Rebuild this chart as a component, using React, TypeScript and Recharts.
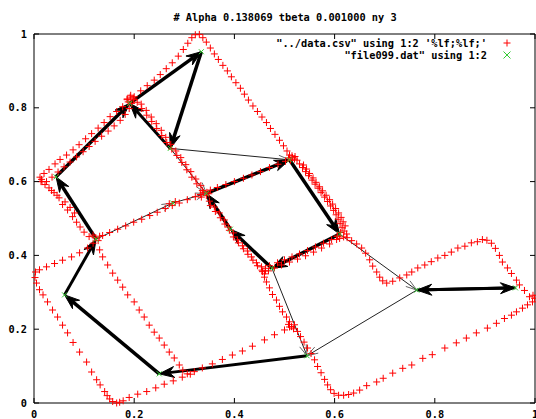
import { ReferenceArea, ReferenceLine, Scatter, ScatterChart, XAxis, YAxis } from 'recharts';

type Pt = [number, number];

const TITLE = '# Alpha 0.138069 tbeta 0.001000 ny 3';
const LEGEND_CSV = `"../data.csv" using 1:2 '%lf;%lf;'`;
const LEGEND_DAT = '"file099.dat" using 1:2';

const xTicks = [0, 0.2, 0.4, 0.6, 0.8, 1];
const yTicks = [0, 0.2, 0.4, 0.6, 0.8, 1];

// red "+" points of ../data.csv, grouped by the stretch of curve they sit on
const redTopOuter: Pt[] = [
  [0.015, 0.606], [0.02, 0.622], [0.03, 0.633], [0.042, 0.648], [0.052, 0.66], [0.065, 0.672],
  [0.078, 0.686], [0.09, 0.7], [0.103, 0.716], [0.115, 0.73], [0.128, 0.745], [0.14, 0.76],
  [0.152, 0.776], [0.165, 0.79], [0.177, 0.803], [0.188, 0.816], [0.2, 0.83], [0.213, 0.846],
  [0.226, 0.86], [0.24, 0.875], [0.252, 0.89], [0.264, 0.906], [0.276, 0.922], [0.288, 0.94],
  [0.298, 0.958], [0.307, 0.975], [0.315, 0.99], [0.322, 0.998], [0.33, 0.999], [0.337, 0.99],
];
const redTopInner: Pt[] = [
  [0.025, 0.6], [0.036, 0.612], [0.048, 0.626], [0.06, 0.64], [0.072, 0.653], [0.085, 0.667],
  [0.098, 0.681], [0.11, 0.695], [0.122, 0.709], [0.135, 0.723], [0.148, 0.737], [0.16, 0.751],
  [0.172, 0.766], [0.182, 0.782], [0.19, 0.798], [0.195, 0.812], [0.186, 0.824], [0.193, 0.834],
  [0.199, 0.822],
];
const redTopRight: Pt[] = [
  [0.344, 0.978], [0.352, 0.962], [0.36, 0.946], [0.368, 0.931], [0.377, 0.915], [0.386, 0.9],
  [0.394, 0.884], [0.403, 0.868], [0.412, 0.853], [0.42, 0.837], [0.428, 0.821], [0.437, 0.805],
  [0.446, 0.79], [0.455, 0.775], [0.464, 0.76], [0.472, 0.744], [0.481, 0.728], [0.49, 0.712],
  [0.498, 0.697], [0.505, 0.683], [0.51, 0.672], [0.516, 0.665], [0.521, 0.668], [0.512, 0.658],
  [0.525, 0.658],
];
const redRightDown: Pt[] = [
  [0.53, 0.648], [0.536, 0.638], [0.542, 0.627], [0.548, 0.616], [0.555, 0.604], [0.561, 0.593],
  [0.567, 0.582], [0.573, 0.57], [0.58, 0.558], [0.586, 0.546], [0.592, 0.534], [0.598, 0.522],
  [0.603, 0.51], [0.607, 0.498], [0.611, 0.486], [0.615, 0.475], [0.619, 0.466],
  [0.538, 0.645], [0.544, 0.634], [0.55, 0.622], [0.557, 0.61], [0.563, 0.598], [0.57, 0.586],
  [0.576, 0.575], [0.583, 0.563], [0.59, 0.551], [0.596, 0.539], [0.602, 0.527], [0.608, 0.515],
  [0.613, 0.503], [0.617, 0.491], [0.621, 0.48],
];
const redN7toN5: Pt[] = [
  [0.502, 0.655], [0.487, 0.647], [0.47, 0.638], [0.452, 0.627], [0.435, 0.618], [0.418, 0.609],
  [0.4, 0.6], [0.383, 0.592], [0.366, 0.584], [0.352, 0.577],
];
const redDiagonal: Pt[] = [
  [0.137, 0.454], [0.151, 0.462], [0.167, 0.471], [0.183, 0.48], [0.199, 0.49], [0.215, 0.498],
  [0.231, 0.508], [0.246, 0.517], [0.262, 0.527], [0.27, 0.54], [0.276, 0.535], [0.282, 0.546],
  [0.29, 0.542], [0.306, 0.551], [0.322, 0.559], [0.332, 0.565],
];
const redN5toN2: Pt[] = [
  [0.336, 0.576], [0.325, 0.594], [0.315, 0.612], [0.305, 0.632], [0.295, 0.652], [0.285, 0.671],
  [0.275, 0.688], [0.265, 0.706], [0.255, 0.725], [0.245, 0.744], [0.235, 0.763], [0.225, 0.78],
  [0.215, 0.798], [0.206, 0.815],
  [0.345, 0.571], [0.333, 0.589], [0.323, 0.607], [0.313, 0.627], [0.303, 0.646], [0.293, 0.665],
  [0.283, 0.683], [0.273, 0.701], [0.263, 0.72], [0.254, 0.739], [0.244, 0.757], [0.234, 0.775],
  [0.224, 0.793], [0.214, 0.81],
];
const redN5toN9: Pt[] = [
  [0.35, 0.547], [0.36, 0.531], [0.37, 0.515], [0.38, 0.496], [0.388, 0.477], [0.398, 0.461],
  [0.406, 0.442], [0.416, 0.426], [0.426, 0.412], [0.434, 0.396], [0.444, 0.38], [0.454, 0.369],
  [0.462, 0.358],
  [0.352, 0.535], [0.362, 0.519], [0.372, 0.502], [0.381, 0.485], [0.39, 0.468], [0.398, 0.45],
  [0.408, 0.434], [0.418, 0.418], [0.427, 0.403], [0.437, 0.387], [0.446, 0.372], [0.455, 0.36],
  [0.46, 0.35],
];
const redN9toN8: Pt[] = [
  [0.48, 0.366], [0.494, 0.374], [0.51, 0.382], [0.526, 0.39], [0.542, 0.399], [0.558, 0.409],
  [0.574, 0.42], [0.59, 0.431], [0.604, 0.443],
  [0.486, 0.38], [0.5, 0.388], [0.515, 0.396], [0.53, 0.404], [0.546, 0.413], [0.562, 0.423],
  [0.578, 0.433], [0.594, 0.443], [0.606, 0.452],
];
const redCentreDown: Pt[] = [
  [0.46, 0.341], [0.464, 0.328], [0.47, 0.312], [0.476, 0.294], [0.484, 0.279], [0.49, 0.262],
  [0.496, 0.247], [0.504, 0.233], [0.51, 0.22], [0.514, 0.207], [0.52, 0.212], [0.526, 0.194],
  [0.532, 0.18], [0.539, 0.165], [0.546, 0.149], [0.553, 0.134], [0.56, 0.117], [0.566, 0.099],
  [0.573, 0.082], [0.58, 0.064], [0.586, 0.049], [0.592, 0.036], [0.599, 0.026], [0.608, 0.021],
  [0.618, 0.021], [0.628, 0.023], [0.638, 0.027],
];
const redRightBottom: Pt[] = [
  [0.65, 0.035], [0.664, 0.047], [0.684, 0.057], [0.697, 0.067], [0.716, 0.081], [0.736, 0.094],
  [0.754, 0.103], [0.776, 0.121], [0.795, 0.131], [0.82, 0.149], [0.843, 0.163], [0.863, 0.176],
  [0.883, 0.19], [0.905, 0.203], [0.923, 0.216], [0.939, 0.229], [0.953, 0.238], [0.963, 0.247],
  [0.975, 0.257], [0.985, 0.266], [0.995, 0.274], [0.999, 0.284], [0.996, 0.292],
];
const redRightEdge: Pt[] = [
  [0.989, 0.288], [0.979, 0.305], [0.969, 0.32], [0.963, 0.333], [0.953, 0.351], [0.945, 0.366],
  [0.935, 0.382], [0.929, 0.4], [0.921, 0.419], [0.913, 0.433], [0.904, 0.441], [0.895, 0.443],
];
const redRightTop: Pt[] = [
  [0.885, 0.437], [0.873, 0.434], [0.86, 0.425], [0.846, 0.42], [0.833, 0.409], [0.82, 0.4],
  [0.806, 0.393], [0.793, 0.383], [0.78, 0.374], [0.766, 0.366], [0.754, 0.355], [0.744, 0.347],
  [0.73, 0.339], [0.716, 0.33], [0.704, 0.325], [0.696, 0.331], [0.69, 0.341], [0.684, 0.355],
  [0.676, 0.371], [0.67, 0.388], [0.662, 0.406], [0.654, 0.42], [0.644, 0.431], [0.634, 0.44],
  [0.625, 0.448],
];
const redMidBottom: Pt[] = [
  [0.5, 0.198], [0.48, 0.185], [0.46, 0.171], [0.436, 0.154], [0.416, 0.141], [0.396, 0.13],
  [0.376, 0.118], [0.356, 0.106], [0.336, 0.095], [0.32, 0.085], [0.306, 0.079],
];
const redLowerLeft: Pt[] = [
  [0.157, 0.004], [0.165, 0.0], [0.171, 0.002], [0.178, 0.006], [0.19, 0.015], [0.207, 0.024],
  [0.225, 0.031], [0.243, 0.041], [0.26, 0.051], [0.278, 0.06], [0.296, 0.07], [0.312, 0.078],
];
const redLeftEdge: Pt[] = [
  [0.151, 0.011], [0.146, 0.02], [0.141, 0.031], [0.132, 0.049], [0.125, 0.063], [0.115, 0.084],
  [0.105, 0.111], [0.091, 0.138], [0.078, 0.164], [0.067, 0.19], [0.057, 0.211], [0.047, 0.233],
  [0.037, 0.252], [0.027, 0.274], [0.018, 0.293], [0.011, 0.307], [0.005, 0.325], [0.002, 0.34],
  [0.003, 0.355], [0.011, 0.361],
];
const redLeftUp: Pt[] = [
  [0.025, 0.369], [0.041, 0.378], [0.057, 0.387], [0.075, 0.396], [0.091, 0.407], [0.107, 0.42],
  [0.118, 0.433],
];
const redNodeDown: Pt[] = [
  [0.131, 0.415], [0.137, 0.396], [0.147, 0.374], [0.157, 0.352], [0.167, 0.333], [0.177, 0.314],
  [0.187, 0.293], [0.2, 0.274], [0.21, 0.252], [0.22, 0.233], [0.23, 0.211], [0.24, 0.192],
  [0.25, 0.176], [0.26, 0.157], [0.27, 0.138], [0.28, 0.122], [0.29, 0.103], [0.297, 0.089],
];
const redTopLeftDown: Pt[] = [
  [0.022, 0.592], [0.03, 0.583], [0.04, 0.57], [0.05, 0.556], [0.057, 0.538], [0.067, 0.523],
  [0.077, 0.505], [0.085, 0.49], [0.092, 0.477], [0.1, 0.463], [0.11, 0.451], [0.016, 0.6],
  [0.035, 0.576], [0.046, 0.563], [0.062, 0.545], [0.072, 0.53], [0.081, 0.515],
];
const redClusters: Pt[] = [
  [0.605, 0.452], [0.612, 0.462], [0.618, 0.45], [0.624, 0.458], [0.61, 0.446], [0.462, 0.365],
  [0.468, 0.358], [0.456, 0.356], [0.47, 0.372], [0.338, 0.571], [0.344, 0.562], [0.334, 0.558],
  [0.349, 0.567], [0.508, 0.664], [0.515, 0.67], [0.52, 0.661], [0.122, 0.448], [0.128, 0.44],
  [0.118, 0.455], [0.131, 0.452], [0.012, 0.612], [0.014, 0.6], [0.51, 0.206], [0.518, 0.201],
  [0.508, 0.213], [0.186, 0.822], [0.192, 0.829], [0.198, 0.826],
];

// green "x" points of file099.dat (network nodes)
const nodes: Pt[] = [
  [0.334, 0.952], [0.191, 0.812], [0.044, 0.613], [0.272, 0.69], [0.344, 0.568], [0.277, 0.542],
  [0.51, 0.659], [0.61, 0.458], [0.475, 0.365], [0.392, 0.471], [0.124, 0.444], [0.061, 0.293],
  [0.25, 0.079], [0.545, 0.128], [0.764, 0.306], [0.961, 0.312],
];

// arrows between nodes: [from, to, line width]
const thickArrows: [number, number, number][] = [
  [2, 1, 3.5], [1, 0, 3.5], [0, 3, 3.5], [3, 1, 3], [10, 2, 3.5], [11, 10, 3], [12, 11, 3.5],
  [13, 12, 3], [4, 6, 3.5], [6, 7, 3.5], [7, 8, 3.5], [8, 9, 3.5], [9, 4, 3.5], [14, 15, 3],
  [15, 14, 3],
];
const thinArrows: [number, number][] = [
  [3, 6], [3, 4], [10, 5], [5, 4], [7, 14], [8, 13], [14, 13],
];

const redData = [
  redTopOuter, redTopInner, redTopRight, redRightDown, redN7toN5, redDiagonal, redN5toN2,
  redN5toN9, redN9toN8, redCentreDown, redRightBottom, redRightEdge, redRightTop, redMidBottom,
  redLowerLeft, redLeftEdge, redLeftUp, redNodeDown, redTopLeftDown, redClusters,
].flat().map(([x, y]) => ({ x, y }));
const nodeData = nodes.map(([x, y]) => ({ x, y }));

const PLOT = { left: 34, right: 535, top: 34, bottom: 403 };
const font = {
  fontFamily: '"DejaVu Sans Mono", monospace',
  fontWeight: 700,
  fontSize: 10.3,
  fill: '#000',
};

function XTick({ x, payload }: any) {
  return (
    <g>
      <line x1={x} x2={x} y1={PLOT.bottom} y2={PLOT.bottom - 5} stroke="#000" />
      <line x1={x} x2={x} y1={PLOT.top} y2={PLOT.top + 5} stroke="#000" />
      <text x={x} y={418} textAnchor="middle" style={font}>
        {String(payload.value)}
      </text>
    </g>
  );
}

function YTick({ y, payload }: any) {
  return (
    <g>
      <line x1={PLOT.left} x2={PLOT.left + 5} y1={y} y2={y} stroke="#000" />
      <line x1={PLOT.right} x2={PLOT.right - 5} y1={y} y2={y} stroke="#000" />
      <text x={27} y={y + 3.6} textAnchor="end" style={font}>
        {String(payload.value)}
      </text>
    </g>
  );
}

function RedPlus({ cx, cy }: any) {
  return <path d={`M${cx - 3.5},${cy}h7M${cx},${cy - 3.5}v7`} stroke="#ff0000" strokeWidth={1} />;
}

function GreenCross({ cx, cy }: any) {
  return (
    <path d={`M${cx - 2.5},${cy - 2.5}l5,5M${cx + 2.5},${cy - 2.5}l-5,5`} stroke="#33cc33" strokeWidth={1} />
  );
}

function thickArrow(width: number) {
  return (p: any) => {
    const { x1, y1, x2, y2 } = p;
    const len = Math.hypot(x2 - x1, y2 - y1) || 1;
    const ux = (x2 - x1) / len;
    const uy = (y2 - y1) / len;
    const L = 15;
    const hw = 5.5;
    const bx = x2 - ux * L;
    const by = y2 - uy * L;
    const nx = x2 - ux * (L - 5);
    const ny = y2 - uy * (L - 5);
    return (
      <g>
        <line x1={x1} y1={y1} x2={nx} y2={ny} stroke="#000" strokeWidth={width} />
        <path
          d={`M${x2},${y2}L${bx - uy * hw},${by + ux * hw}L${nx},${ny}L${bx + uy * hw},${by - ux * hw}Z`}
          fill="#000"
          stroke="#000"
          strokeWidth={1}
        />
      </g>
    );
  };
}

function thinArrow(p: any) {
  const { x1, y1, x2, y2 } = p;
  const len = Math.hypot(x2 - x1, y2 - y1) || 1;
  const ux = (x2 - x1) / len;
  const uy = (y2 - y1) / len;
  const bx = x2 - ux * 11;
  const by = y2 - uy * 11;
  return (
    <g>
      <line x1={x1} y1={y1} x2={x2} y2={y2} stroke="#222" strokeWidth={1} />
      <path
        d={`M${bx - uy * 3.5},${by + ux * 3.5}L${x2},${y2}L${bx + uy * 3.5},${by - ux * 3.5}`}
        fill="none"
        stroke="#666"
        strokeWidth={1}
      />
    </g>
  );
}

export default function App() {
  return (
    <div style={{ position: 'absolute', left: 0, top: 0, width: 536, height: 419, background: '#fff' }}>
      <ScatterChart width={536} height={419} margin={{ top: 34, right: 1, bottom: 0, left: 0 }}>
        <XAxis
          type="number"
          dataKey="x"
          domain={[0, 1]}
          ticks={xTicks}
          interval={0}
          height={16}
          axisLine={false}
          tickLine={false}
          tick={(p: any) => <XTick {...p} />}
        />
        <YAxis
          type="number"
          dataKey="y"
          domain={[0, 1]}
          ticks={yTicks}
          interval={0}
          width={34}
          axisLine={false}
          tickLine={false}
          tick={(p: any) => <YTick {...p} />}
        />
        <ReferenceArea x1={0} x2={1} y1={0} y2={1} fill="none" stroke="#000" strokeWidth={1} ifOverflow="visible" />
        <Scatter data={redData} shape={(p: any) => <RedPlus {...p} />} isAnimationActive={false} />
        <Scatter data={nodeData} shape={(p: any) => <GreenCross {...p} />} isAnimationActive={false} />
        {thinArrows.map(([a, b], i) => (
          <ReferenceLine
            key={`thin-${i}`}
            segment={[
              { x: nodes[a][0], y: nodes[a][1] },
              { x: nodes[b][0], y: nodes[b][1] },
            ]}
            shape={thinArrow}
          />
        ))}
        {thickArrows.map(([a, b, w], i) => (
          <ReferenceLine
            key={`thick-${i}`}
            segment={[
              { x: nodes[a][0], y: nodes[a][1] },
              { x: nodes[b][0], y: nodes[b][1] },
            ]}
            shape={thickArrow(w)}
          />
        ))}
      </ScatterChart>
      <svg width={536} height={419} style={{ position: 'absolute', left: 0, top: 0, pointerEvents: 'none' }}>
        <text x={285} y={21} textAnchor="middle" style={font}>
          {TITLE}
        </text>
        <text x={487} y={47} textAnchor="end" style={font}>
          {LEGEND_CSV}
        </text>
        <text x={487} y={59} textAnchor="end" style={font}>
          {LEGEND_DAT}
        </text>
        <RedPlus cx={507} cy={43} />
        <path d="M503.5,51.5l7,7M510.5,51.5l-7,7" stroke="#33cc33" strokeWidth={1} />
      </svg>
    </div>
  );
}
